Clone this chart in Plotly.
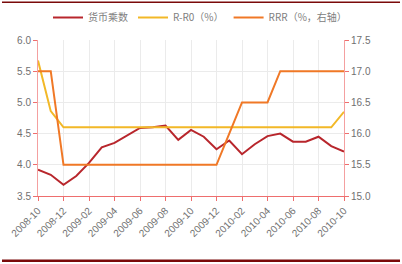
import plotly.graph_objects as go

months = ["2008-10","2008-11","2008-12","2009-01","2009-02","2009-03","2009-04","2009-05",
          "2009-06","2009-07","2009-08","2009-09","2009-10","2009-11","2009-12","2010-01",
          "2010-02","2010-03","2010-04","2010-05","2010-06","2010-07","2010-08","2010-09","2010-10"]
money_mult = [3.92,3.84,3.68,3.82,4.03,4.28,4.35,4.47,4.59,4.60,4.63,4.40,4.56,4.45,4.25,4.39,
              4.17,4.33,4.46,4.50,4.37,4.37,4.45,4.30,4.21]
r_r0 = [5.67,4.86,4.60,4.60,4.60,4.60,4.60,4.60,4.60,4.60,4.60,4.60,4.60,4.60,4.60,4.60,
        4.60,4.60,4.60,4.60,4.60,4.60,4.60,4.60,4.85]
rrr = [17.0,17.0,15.5,15.5,15.5,15.5,15.5,15.5,15.5,15.5,15.5,15.5,15.5,15.5,15.5,16.0,
       16.5,16.5,16.5,17.0,17.0,17.0,17.0,17.0,17.0]
tick_labels = months[::2]
left_ticks = [3.5,4.0,4.5,5.0,5.5,6.0]
right_ticks = [15.0,15.5,16.0,16.5,17.0,17.5]

font = "Liberation Sans, Arial, Noto Sans CJK SC, sans-serif"
fig = go.Figure()
fig.add_trace(go.Scatter(x=months, y=money_mult, name="货币乘数", mode="lines",
                         line=dict(color="#B8262C", width=2)))
fig.add_trace(go.Scatter(x=months, y=r_r0, name="R-R0（%）", mode="lines",
                         line=dict(color="#F2B827", width=2)))
fig.add_trace(go.Scatter(x=months, y=rrr, name="RRR（%，右轴）", mode="lines",
                         line=dict(color="#F07826", width=2), yaxis="y2"))

L, R, T, B = 38, 58, 40, 68
W, H = 402, 264
pw, ph = W - L - R, H - T - B
def px(x): return (x - L) / pw
def py(y): return (H - B - y) / ph

fig.update_layout(
    width=W, height=H, margin=dict(l=L, r=R, t=T, b=B, autoexpand=False),
    paper_bgcolor="white", plot_bgcolor="white",
    font=dict(family=font, size=10, color="#666666"),
    showlegend=True,
    legend=dict(orientation="h", x=px(200), xanchor="center", y=py(3), yanchor="top",
                font=dict(size=10, color="#808080", family="Noto Sans CJK SC, sans-serif"),
                itemwidth=30, tracegroupgap=0, bgcolor="rgba(0,0,0,0)"),
    xaxis=dict(type="category", tickvals=tick_labels, ticktext=tick_labels, tickangle=-45,
               showgrid=True, gridcolor="#EBEBEB", showline=True, linecolor="#EE6E6E",
               ticks="outside", ticklen=4, tickcolor="#EE6E6E", range=[0, 24],
               tickfont=dict(size=10, color="#707070")),
    yaxis=dict(range=[3.5, 6.0], tickvals=left_ticks, tickformat=".1f",
               showgrid=True, gridcolor="#EBEBEB", showline=True, linecolor="#F4A0A0",
               ticks="outside", ticklen=4, tickcolor="#EE6E6E", zeroline=False,
               tickfont=dict(size=10, color="#707070")),
    yaxis2=dict(range=[15.0, 17.5], tickvals=right_ticks, tickformat=".1f", overlaying="y",
                side="right", showgrid=False, showline=True, linecolor="#F4A0A0",
                ticks="outside", ticklen=4, tickcolor="#EE6E6E", zeroline=False,
                tickfont=dict(size=10, color="#707070")),
    shapes=[
        dict(type="rect", xref="paper", yref="paper", x0=px(2), x1=px(400), y0=py(3), y1=py(1.5),
             line=dict(width=0), fillcolor="#7A0A0A", layer="above"),
        dict(type="rect", xref="paper", yref="paper", x0=px(2), x1=px(400), y0=py(262), y1=py(259.5),
             line=dict(width=0), fillcolor="#7A0A0A", layer="above"),
    ],
)
fig.write_html("out.html")
